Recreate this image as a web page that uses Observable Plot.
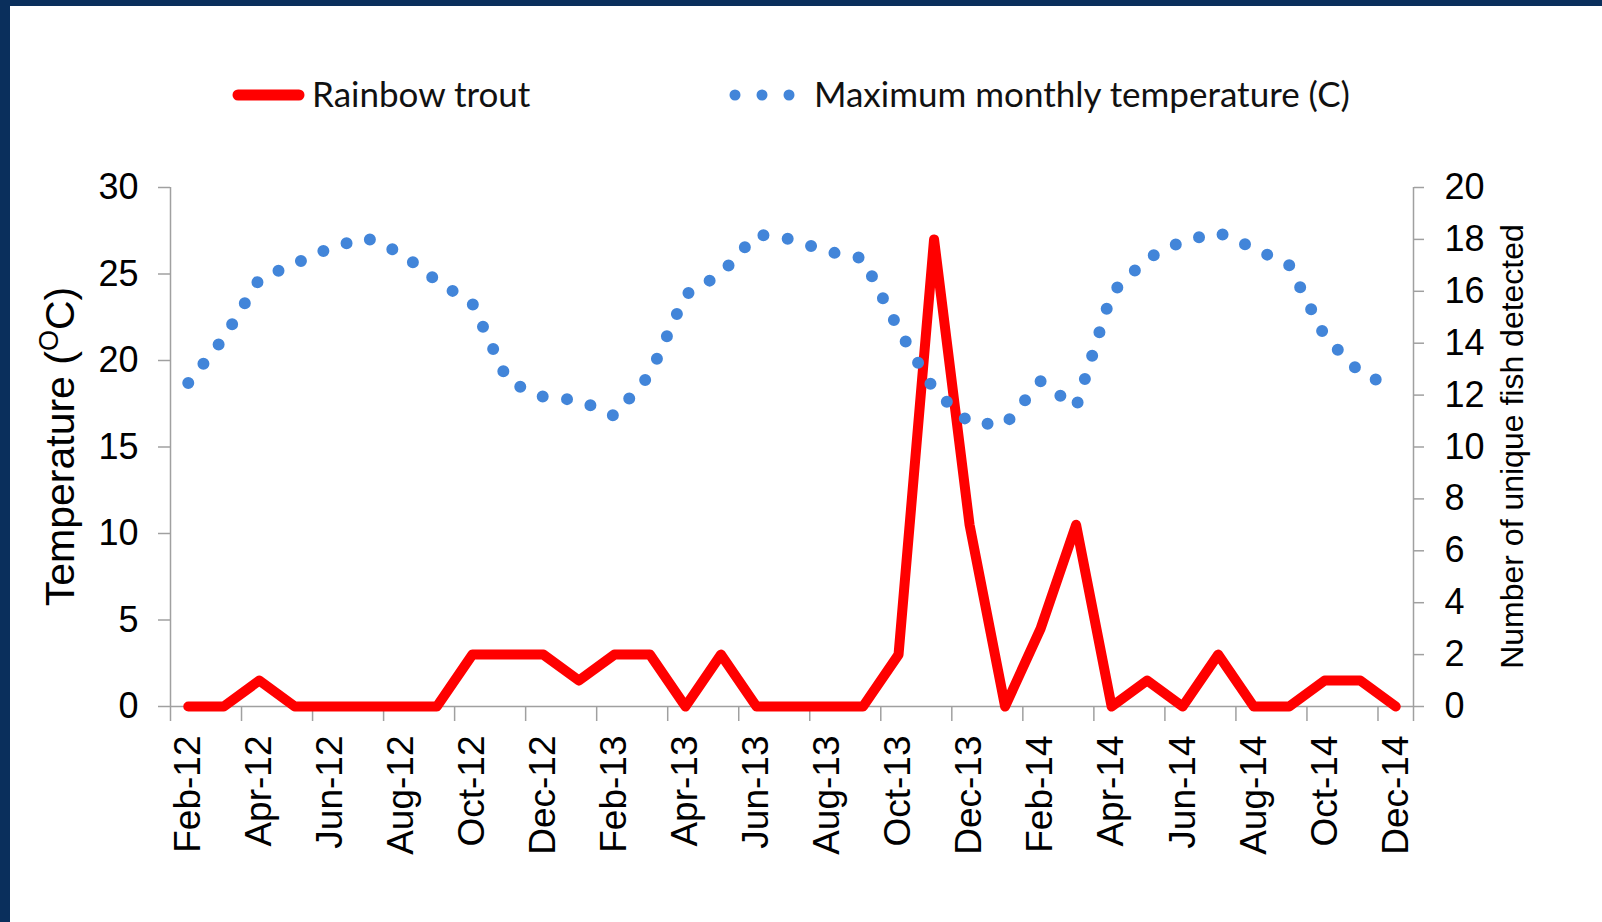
<!DOCTYPE html>
<html>
<head>
<meta charset="utf-8">
<script src="https://cdn.jsdelivr.net/npm/d3@7"></script>
<script src="https://cdn.jsdelivr.net/npm/@observablehq/plot@0.6"></script>
<style>
  html, body { margin: 0; padding: 0; background: #fff; }
  #wrap { position: relative; width: 1602px; height: 922px; overflow: hidden; background: #fff; }
  #barL { position: absolute; left: 0; top: 0; width: 10px; height: 922px; background: #0a2f5c; }
  #barT { position: absolute; left: 0; top: 0; width: 1602px; height: 6px; background: #0a2f5c; }
  #legend { position: absolute; left: 0; top: 0; width: 1602px; height: 150px; }
  #chart { position: absolute; left: 0; top: 150px; }
</style>
</head>
<body>
<div id="wrap">
  <div id="legend"></div>
  <div id="chart"></div>
  <div id="barL"></div>
  <div id="barT"></div>
</div>
<script>
// ---- data ----
const months = [
  "Feb-12","Mar-12","Apr-12","May-12","Jun-12","Jul-12","Aug-12","Sep-12","Oct-12","Nov-12","Dec-12",
  "Jan-13","Feb-13","Mar-13","Apr-13","May-13","Jun-13","Jul-13","Aug-13","Sep-13","Oct-13","Nov-13","Dec-13",
  "Jan-14","Feb-14","Mar-14","Apr-14","May-14","Jun-14","Jul-14","Aug-14","Sep-14","Oct-14","Nov-14","Dec-14"
];
const maxTemperature = [
  18.7, 21.3, 24.7, 25.6, 26.5, 27.1, 26.2, 24.6, 23.3, 18.8, 17.9,
  17.7, 16.8, 19.2, 23.8, 25.0, 27.3, 27.0, 26.3, 25.9, 21.8, 18.3, 16.4,
  16.3, 18.8, 17.3, 23.9, 25.9, 26.9, 27.4, 26.5, 25.5, 21.4, 19.3, 18.4
];
const rainbowTrout = [
  0, 0, 1, 0, 0, 0, 0, 0, 2, 2, 2,
  1, 2, 2, 0, 2, 0, 0, 0, 0, 2, 18, 7,
  0, 3, 7, 0, 1, 0, 2, 0, 0, 1, 1, 0
];
const tempTicks = [0, 5, 10, 15, 20, 25, 30];
const fishTicks = [0, 2, 4, 6, 8, 10, 12, 14, 16, 18, 20];
const seriesNames = ["Rainbow trout", "Maximum monthly temperature (C)"];
const leftTitle = ["Temperature (", "O", "C)"];
const rightTitle = "Number of unique fish detected";

// ---- styles ----
const RED = "#ff0000";
const BLUE = "#4285d9";
const AX = "#a0a0a0";
const FONT = "'Liberation Sans', Arial, sans-serif";
const LEGEND_FONT = "Lato, 'Open Sans', sans-serif";

// fish axis (0-20) shares the pixel range of the temperature axis (0-30)
const fishScale = 30 / 20;
const idx = d3.range(months.length);
const labelIdx = idx.filter(i => i % 2 === 0);
const bounds = labelIdx.map(i => i - 0.5).concat([months.length - 0.5]);

const W = 1602, H = 772, MT = 37, MB = 216;
const chart = Plot.plot({
  width: W,
  height: H,
  marginTop: MT,
  marginBottom: MB,
  marginLeft: 170,
  marginRight: 189,
  style: { fontFamily: FONT, background: "transparent", color: "#000", overflow: "visible" },
  x: { type: "linear", domain: [-0.5, months.length - 0.5] },
  y: { domain: [0, 30] },
  marks: [
    Plot.axisY({ ticks: tempTicks, tickSize: 12, tickPadding: 20, fontSize: 36, label: null, stroke: AX, strokeWidth: 1.5 }),
    Plot.axisY({ anchor: "right", ticks: fishTicks.map(v => v * fishScale), tickFormat: d => String(Math.round(d / fishScale)),
                 tickSize: 10, tickPadding: 21, fontSize: 36, label: null, stroke: AX, strokeWidth: 1.5 }),
    Plot.axisX({ ticks: bounds, tickSize: 15, tickFormat: () => "", label: null, stroke: AX, strokeWidth: 1.5 }),
    Plot.axisX({ ticks: labelIdx, tickFormat: i => months[i], tickSize: 0, tickPadding: 29, tickRotate: -90,
                 fontSize: 37, label: null }),
    Plot.ruleX([-0.5, months.length - 0.5], { stroke: AX, strokeWidth: 1.5 }),
    Plot.ruleY([0], { stroke: AX, strokeWidth: 1.5 }),
    Plot.line(idx, { x: i => i, y: i => rainbowTrout[i] * fishScale, stroke: RED, strokeWidth: 10,
                     strokeLinejoin: "round", strokeLinecap: "round" }),
    Plot.line(idx, { x: i => i, y: i => maxTemperature[i], stroke: BLUE, strokeWidth: 12,
                     strokeDasharray: "0 24.5", strokeLinecap: "round" })
  ]
});
document.getElementById("chart").appendChild(chart);

// axis titles
const svg = d3.select(chart);
const midY = (MT + (H - MB)) / 2;
const lt = svg.append("text")
  .attr("transform", `translate(74,${midY}) rotate(-90)`)
  .attr("text-anchor", "middle")
  .attr("font-family", FONT)
  .attr("font-size", 41)
  .attr("fill", "#000");
lt.append("tspan").text(leftTitle[0]);
lt.append("tspan").attr("font-size", 27).attr("dy", -16).text(leftTitle[1]);
lt.append("tspan").attr("dy", 16).text(leftTitle[2]);

svg.append("text")
  .attr("transform", `translate(1523,${midY}) rotate(-90)`)
  .attr("text-anchor", "middle")
  .attr("font-family", FONT)
  .attr("font-size", 32)
  .attr("fill", "#000")
  .text(rightTitle);

// legend
const lg = d3.select("#legend").append("svg").attr("width", 1602).attr("height", 150);
lg.append("line").attr("x1", 238).attr("x2", 299).attr("y1", 95).attr("y2", 95)
  .attr("stroke", RED).attr("stroke-width", 11).attr("stroke-linecap", "round");
lg.append("text").attr("x", 312).attr("y", 95).attr("dy", "0.35em")
  .attr("font-family", LEGEND_FONT).attr("font-size", 35).attr("fill", "#111").text(seriesNames[0]);
[735, 762, 789].forEach(cx => lg.append("circle").attr("cx", cx).attr("cy", 95).attr("r", 5.5).attr("fill", BLUE));
lg.append("text").attr("x", 814).attr("y", 95).attr("dy", "0.35em")
  .attr("font-family", LEGEND_FONT).attr("font-size", 35).attr("fill", "#111").text(seriesNames[1]);
</script>
</body>
</html>
